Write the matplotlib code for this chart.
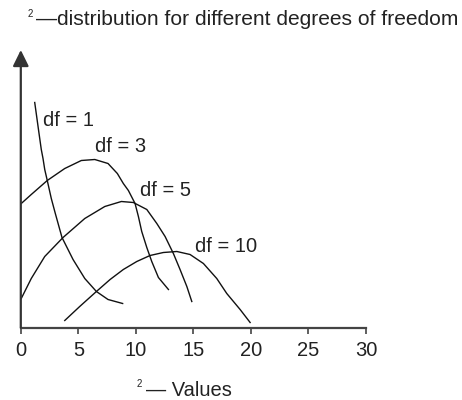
import matplotlib
matplotlib.use("Agg")
import matplotlib.pyplot as plt

plt.rcParams['font.family'] = ['Liberation Sans', 'DejaVu Sans']

# curves (x = chi-square value, y = relative density)
df1_x = [1.21, 1.56, 1.78, 1.93, 2.08, 2.30, 2.65, 3.00, 3.58, 4.54, 5.56, 6.57, 7.58, 8.85]
df1_y = [0.225, 0.196, 0.178, 0.169, 0.158, 0.147, 0.129, 0.114, 0.090, 0.068, 0.049, 0.036, 0.028, 0.024]

df3_x = [0.04, 0.91, 2.30, 3.82, 5.26, 6.43, 7.58, 8.39, 8.91, 9.35, 9.93, 10.22, 10.51,
         10.95, 11.38, 11.96, 12.83]
df3_y = [0.124, 0.133, 0.147, 0.159, 0.167, 0.168, 0.164, 0.154, 0.144, 0.137, 0.124, 0.111,
         0.096, 0.080, 0.066, 0.050, 0.038]

df5_x = [0.04, 0.91, 2.08, 3.67, 5.56, 7.30, 8.74, 9.78, 10.95, 11.82, 12.54, 13.26, 13.84,
         14.43, 14.86]
df5_y = [0.029, 0.049, 0.071, 0.090, 0.109, 0.121, 0.126, 0.125, 0.118, 0.104, 0.091, 0.074,
         0.058, 0.041, 0.026]

df10_x = [3.82, 5.12, 6.57, 7.76, 8.91, 10.08, 11.23, 12.39, 13.56, 14.71, 15.87, 17.03,
          17.90, 19.06, 19.93]
df10_y = [0.007, 0.021, 0.036, 0.048, 0.058, 0.066, 0.072, 0.075, 0.076, 0.073, 0.064, 0.049,
          0.034, 0.018, 0.005]

curve_labels = ['df = 1', 'df = 3', 'df = 5', 'df = 10']
label_x = [1.90, 6.45, 10.37, 15.15]
label_y = [0.201, 0.175, 0.132, 0.076]

xticks = [0, 5, 10, 15, 20, 25, 30]

W, H = 462, 400
fig = plt.figure(figsize=(W / 100, H / 100), dpi=100)
ax = fig.add_axes([20.8 / W, 1 - 327.5 / H, 345.2 / W, 277.5 / H])

for xs, ys in [(df1_x, df1_y), (df3_x, df3_y), (df5_x, df5_y), (df10_x, df10_y)]:
    ax.plot(xs, ys, color='#111111', lw=1.0, solid_joinstyle='round')

for t, lx, ly in zip(curve_labels, label_x, label_y):
    ax.text(lx, ly, t, fontsize=14.5, color='#222222', ha='left', va='baseline')

ax.set_xlim(0, 30)
ax.set_ylim(0, 0.2775)
ax.set_xticks(xticks)
ax.set_xticklabels([str(v) for v in xticks])
ax.set_yticks([])
ax.tick_params(axis='x', direction='out', length=4, width=1.2, color='#444444',
               labelsize=14.5, labelcolor='#222222', pad=6)

for s in ['top', 'right', 'left']:
    ax.spines[s].set_visible(False)
ax.spines['bottom'].set_color('#444444')
ax.spines['bottom'].set_linewidth(1.6)

# y axis drawn as an arrow
ax.annotate('', xy=(0, 1.0), xytext=(0, 0), xycoords='axes fraction',
            arrowprops=dict(arrowstyle='-|>,head_length=0.65,head_width=0.32',
                            color='#333333', lw=1.6, mutation_scale=15,
                            shrinkA=0, shrinkB=0))

# title and x label, with a small superscript 2
fig.text(28 / W, 1 - 17 / H, '2', fontsize=7, color='#222222', ha='left', va='baseline')
fig.text(35.5 / W, 1 - 25 / H, '\u2014distribution for different degrees of freedom',
         fontsize=15.1, color='#222222', ha='left', va='baseline')
fig.text(136.5 / W, 1 - 387 / H, '2', fontsize=7, color='#222222', ha='left', va='baseline')
fig.text(145.5 / W, 1 - 395.5 / H, '\u2014 Values', fontsize=14.5, color='#222222',
         ha='left', va='baseline')

fig.savefig('out.png', dpi=100)
